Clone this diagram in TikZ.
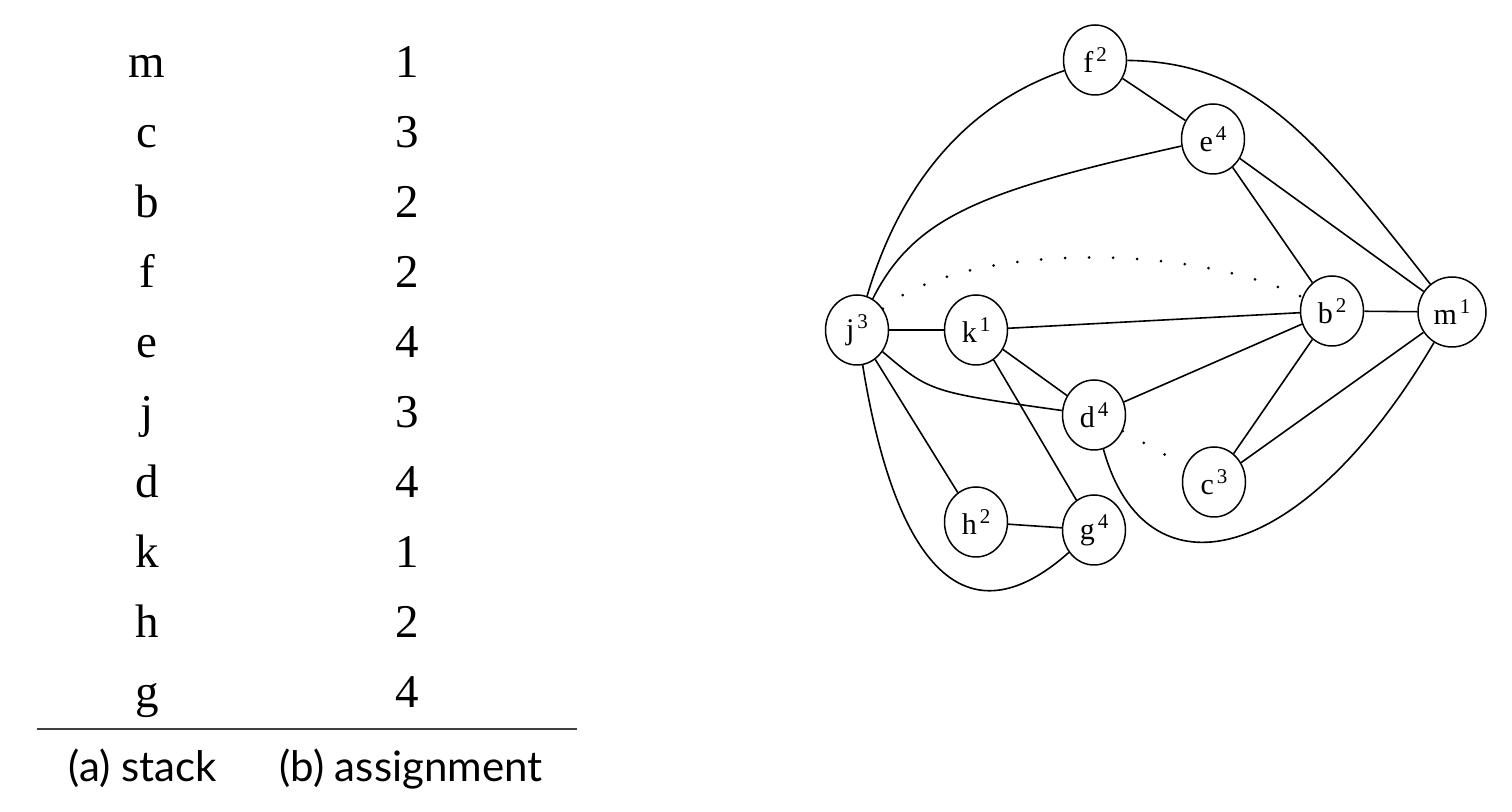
\documentclass[tikz,border=0pt]{standalone}
\usepackage{fontspec}
\setmainfont{Liberation Serif}
\newfontfamily\capfont{Lato}
\usetikzlibrary{shapes.geometric}
\newcommand{\nl}[2]{#1\hspace{1.5pt}\raisebox{5.5pt}{\fontsize{10.5}{10.5}\selectfont #2}}
\tikzset{
  vtx/.style={draw, ellipse, line width=0.75pt, minimum width=31.5pt, minimum height=35pt, inner sep=0pt, font=\fontsize{15}{15}\selectfont},
  edge/.style={line width=0.8pt},
  dots/.style={line width=1.5pt, line cap=round, dash pattern=on 0pt off 12pt},
  tabtxt/.style={font=\fontsize{23.5}{23.5}\selectfont, anchor=base},
  captxt/.style={font=\capfont\fontsize{21}{21}\selectfont, anchor=base}
}
\begin{document}
\begin{tikzpicture}[x=0.5pt,y=-0.5pt]
\useasboundingbox (0,0) rectangle (1512,812);
% table
\foreach \l/\n/\y [count=\i] in {m/1/78,c/3/148,b/2/218,f/2/288,e/4/358,j/3/428,d/4/498,k/1/568,h/2/638,g/4/708}{
  \node[tabtxt] (l\i) at (147,\y) {\l};
  \node[tabtxt] (n\i) at (407,\y) {\n};
}
\coordinate (r1) at (37,729);
\coordinate (r2) at (577,729);
\draw[line width=1.3pt, black!75] (r1) -- (r2);
\node[captxt] (ca) at (143,782) {(a) stack};
\node[captxt] (cb) at (411,782) {(b) assignment};
% graph nodes
\node[vtx] (f) at (1095,60) {\nl{f}{2}};
\node[vtx] (e) at (1213,139) {\nl{e}{4}};
\node[vtx] (j) at (857,330) {\nl{j}{3}};
\node[vtx] (k) at (976,330) {\nl{k}{1}};
\node[vtx] (b) at (1332,311) {\nl{b}{2}};
\node[vtx, minimum width=34pt] (m) at (1452,312) {\nl{m}{1}};
\node[vtx] (d) at (1094,415) {\nl{d}{4}};
\node[vtx] (c) at (1214,482) {\nl{c}{3}};
\node[vtx] (h) at (976,522) {\nl{h}{2}};
\node[vtx] (g) at (1094,530) {\nl{g}{4}};
% edges
\draw[edge] (f) -- (e);
\draw[edge] (f) .. controls (965,105) and (900,185) .. (j);
\draw[edge] (e) .. controls (985,190) and (915,215) .. (j);
\draw[edge] (f) .. controls (1250,62) and (1310,130) .. (m);
\draw[edge] (e) -- (b);
\draw[edge] (e) -- (m);
\draw[dots] (j) .. controls (960,245) and (1180,240) .. (b);
\draw[edge] (j) -- (k);
\draw[edge] (k) -- (b);
\draw[edge] (j) .. controls (930,392) .. (d);
\draw[edge] (k) -- (d);
\draw[edge] (k) -- (g);
\draw[edge] (d) -- (b);
\draw[dots] (d) -- (c);
\draw[edge] (d) .. controls (1145,600) and (1300,570) .. (m);
\draw[edge] (b) -- (m);
\draw[edge] (b) -- (c);
\draw[edge] (m) -- (c);
\draw[edge] (j) -- (h);
\draw[edge] (j) .. controls (895,565) and (965,645) .. (g);
\draw[edge] (h) -- (g);
\end{tikzpicture}
\end{document}
